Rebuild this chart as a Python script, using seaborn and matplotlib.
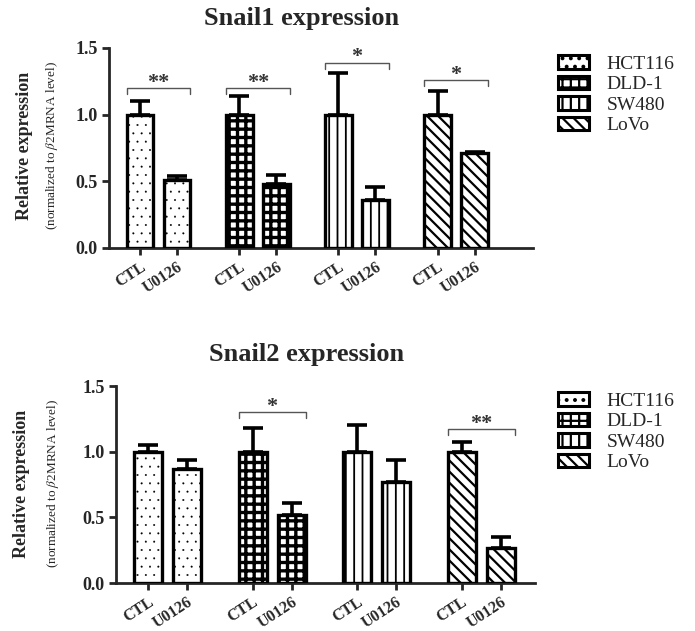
import numpy as np
import pandas as pd
import matplotlib
matplotlib.use('Agg')
import matplotlib.pyplot as plt
import matplotlib.patches as mpatches
import matplotlib.transforms as mtransforms
import seaborn as sns

# data
cell_lines = ['HCT116', 'DLD-1', 'SW480', 'LoVo']
conditions = ['CTL', 'U0126']

snail1_mean = [1.00, 0.51, 1.00, 0.48, 1.00, 0.36, 1.00, 0.71]
snail1_sem = [0.10, 0.03, 0.14, 0.07, 0.31, 0.10, 0.18, 0.01]
snail1_sig_group = [0, 1, 2, 3]
snail1_sig_y = [1.20, 1.20, 1.39, 1.26]
snail1_sig_txt = ['**', '**', '*', '*']

snail2_mean = [1.00, 0.87, 1.00, 0.52, 1.00, 0.77, 1.00, 0.27]
snail2_sem = [0.05, 0.07, 0.18, 0.09, 0.20, 0.17, 0.07, 0.08]
snail2_sig_group = [1, 3]
snail2_sig_y = [1.30, 1.17]
snail2_sig_txt = ['*', '**']

hatches = ['..', '++', '||', '\\\\\\']
hatch_lw = [0.2, 2.4, 1.3, 1.6]

sns.set_style('ticks')
plt.rcParams['font.family'] = ['Liberation Serif', 'DejaVu Serif']
plt.rcParams['hatch.linewidth'] = 1.6
plt.rcParams['mathtext.fontset'] = 'stix'

STEP = 2.68
WIDTH = 0.72


def set_hlw(p, lw):
    if hasattr(p, 'set_hatch_linewidth'):
        p.set_hatch_linewidth(lw)
    else:
        p._hatch_linewidth = lw


def make_df(means, sems):
    rows = []
    for g, cl in enumerate(cell_lines):
        for c, cond in enumerate(conditions):
            i = g * 2 + c
            rows.append({'cell': cl, 'cond': cond, 'pos': g * STEP + c,
                         'mean': means[i], 'sem': sems[i]})
    return pd.DataFrame(rows)


def draw_panel(ax, means, sems, sig_group, sig_y, sig_txt, xlim):
    df = make_df(means, sems)
    sns.barplot(data=df, x='pos', y='mean', native_scale=True, width=WIDTH,
                color='white', edgecolor='black', linewidth=2.4,
                errorbar=None, ax=ax, zorder=3)
    bars = sorted(ax.patches, key=lambda p: p.get_x())
    for i, p in enumerate(bars):
        p.set_hatch(hatches[i // 2])
        set_hlw(p, hatch_lw[i // 2])
        p.set_facecolor('white')
    ax.errorbar(df['pos'], df['mean'], yerr=[np.zeros(len(df)), df['sem']],
                fmt='none', ecolor='black', elinewidth=2.6, capsize=7,
                capthick=2.6, zorder=2)
    for g, y, t in zip(sig_group, sig_y, sig_txt):
        x0 = g * STEP - WIDTH / 2
        x1 = g * STEP + 1 + WIDTH / 2
        ax.plot([x0, x0, x1, x1], [y - 0.045, y, y, y - 0.045],
                color='#555555', lw=1.0, zorder=4)
        ax.text((x0 + x1) / 2, y - 0.035, t, ha='center', va='bottom',
                fontsize=16, fontweight='bold', color='#333333')
    ax.set_ylim(0, 1.5)
    ax.set_xlim(*xlim)
    ax.set_yticks([0, 0.5, 1.0, 1.5])
    ax.set_yticklabels(['0.0', '0.5', '1.0', '1.5'], fontsize=13,
                       fontweight='bold')
    ax.set_xticks(df['pos'])
    ax.set_xticklabels(df['cond'], rotation=33, ha='right', va='top',
                       rotation_mode='anchor', fontsize=11.5,
                       fontweight='bold')
    shift = mtransforms.ScaledTranslation(8 / 100, 0, ax.figure.dpi_scale_trans)
    for lab in ax.get_xticklabels():
        lab.set_transform(lab.get_transform() + shift)
    ax.tick_params(width=2, length=5, pad=3)
    ax.tick_params(axis='x', pad=3)
    sns.despine(ax=ax)
    for s in ['left', 'bottom']:
        ax.spines[s].set_linewidth(2)
    ax.set_xlabel('')
    ax.set_ylabel('')


fig = plt.figure(figsize=(6.95, 6.31), dpi=100)
ax1 = fig.add_axes([109 / 695, 1 - 248 / 631, 424 / 695, 200 / 631])
ax2 = fig.add_axes([116 / 695, 1 - 583 / 631, 419 / 695, 197 / 631])

draw_panel(ax1, snail1_mean, snail1_sem, snail1_sig_group, snail1_sig_y,
           snail1_sig_txt, (-0.84, 10.62))
draw_panel(ax2, snail2_mean, snail2_sem, snail2_sig_group, snail2_sig_y,
           snail2_sig_txt, (-0.82, 9.92))

fig.text(302 / 695, 1 - 18 / 631, 'Snail1 expression', ha='center',
         va='center', fontsize=19, fontweight='bold')
fig.text(307 / 695, 1 - 355 / 631, 'Snail2 expression', ha='center',
         va='center', fontsize=19, fontweight='bold')

for yc, x1, x2 in [(1 - 146 / 631, 25, 52), (1 - 484 / 631, 22, 53)]:
    fig.text(x1 / 695, yc, 'Relative expression', rotation=90, ha='center',
             va='center', fontsize=13, fontweight='bold')
    fig.text(x2 / 695, yc, '(normalized to $\\beta$2MRNA level)', rotation=90,
             ha='center', va='center', fontsize=9.5)

handles = []
for h, lw, cl in zip(hatches, hatch_lw, cell_lines):
    hp = mpatches.Patch(facecolor='white', edgecolor='black', lw=2.2,
                        hatch=h, label=cl)
    set_hlw(hp, lw)
    handles.append(hp)
for ytop in [1 - 55 / 631, 1 - 392 / 631]:
    fig.legend(handles=handles, loc='upper left',
               bbox_to_anchor=(558 / 695, ytop), frameon=False, fontsize=14,
               handlelength=1.6, handleheight=0.7, labelspacing=0.15,
               handletextpad=0.9, borderpad=0, borderaxespad=0)

fig.savefig('out.png', dpi=100)
